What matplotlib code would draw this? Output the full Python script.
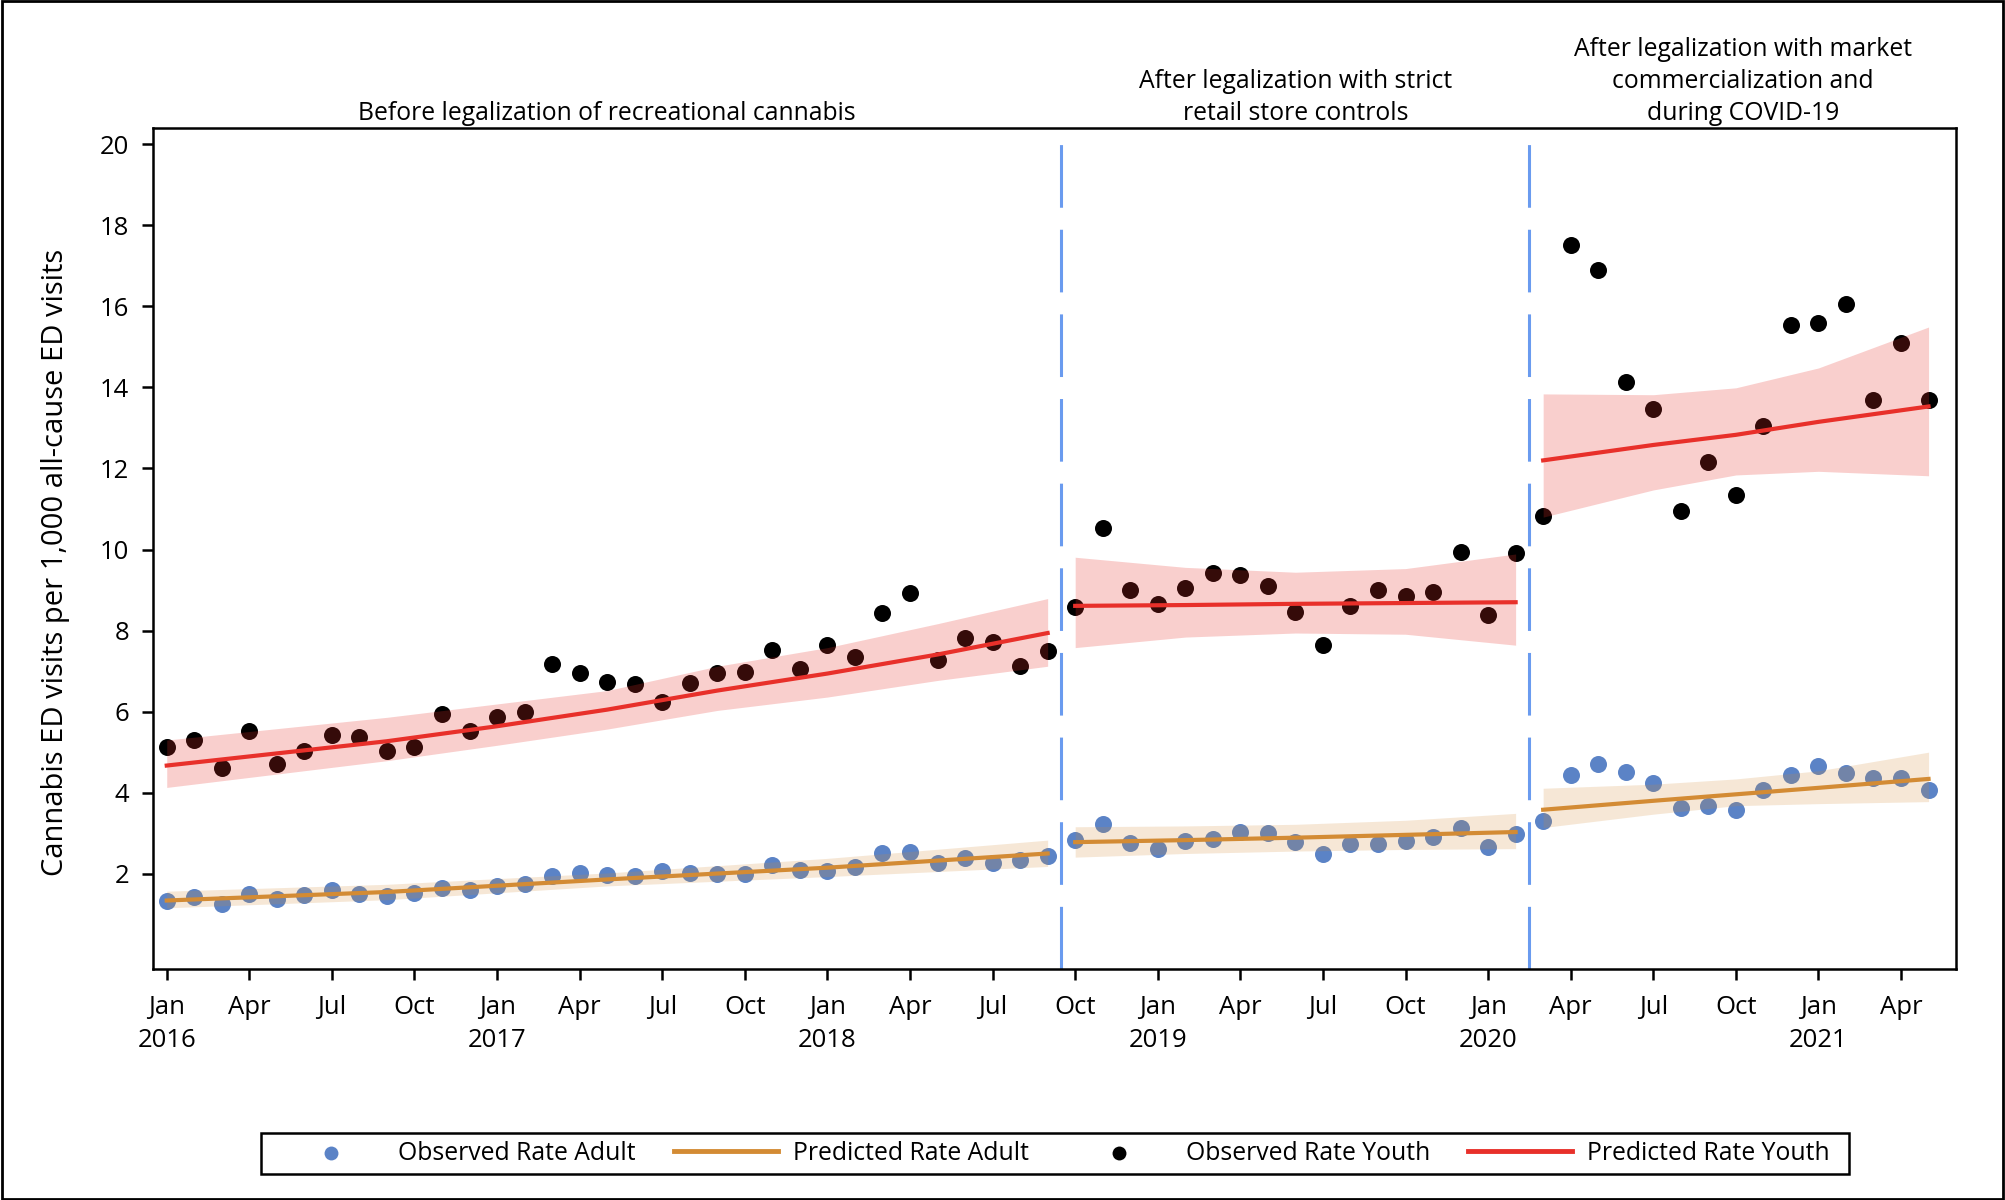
import numpy as np
import matplotlib.pyplot as plt
from matplotlib.patches import Rectangle

plt.rcParams['font.family'] = ['Open Sans', 'DejaVu Sans']

# month index: 0 = Jan 2016 ... 64 = May 2021
youth_obs = [5.14, 5.30, 4.60, 5.52, 4.70, 5.02, 5.43, 5.37, 5.02, 5.14, 5.94, 5.52,
             5.87, 6.00, 7.17, 6.95, 6.72, 6.67, 6.25, 6.70, 6.95, 6.98, 7.53, 7.05,
             7.65, 7.34, 8.44, 8.92, 7.27, 7.81, 7.73, 7.12, 7.49,
             8.57, 10.54, 9.01, 8.66, 9.05, 9.43, 9.36, 9.10, 8.47, 7.65, 8.60, 9.01,
             8.86, 8.95, 9.94, 8.38, 9.91,
             10.83, 17.52, 16.89, 14.13, 13.46, 10.95, 12.17, 11.34, 13.06, 15.55,
             15.59, 16.06, 13.68, 15.10, 13.68]
adult_obs = [1.34, 1.43, 1.26, 1.50, 1.37, 1.47, 1.59, 1.49, 1.46, 1.53, 1.65, 1.60,
             1.70, 1.75, 1.94, 2.01, 1.96, 1.94, 2.07, 2.03, 2.00, 2.00, 2.21, 2.09,
             2.06, 2.17, 2.51, 2.54, 2.26, 2.38, 2.26, 2.34, 2.45,
             2.83, 3.24, 2.77, 2.60, 2.80, 2.86, 3.02, 3.01, 2.78, 2.48, 2.74, 2.74,
             2.80, 2.90, 3.14, 2.67, 2.99,
             3.30, 4.44, 4.70, 4.51, 4.25, 3.63, 3.66, 3.58, 4.06, 4.44, 4.67, 4.48,
             4.37, 4.36, 4.06]

# predicted values and 95% CI read at a few months of each period
youth_pred_x = [[0, 4, 8, 12, 16, 20, 24, 28, 32], [33, 37, 41, 45, 49],
                [50, 54, 57, 60, 64]]
youth_pred = [[4.67, 4.97, 5.27, 5.64, 6.05, 6.52, 6.94, 7.41, 7.94],
              [8.61, 8.63, 8.66, 8.68, 8.70],
              [12.20, 12.58, 12.83, 13.15, 13.53]]
youth_hi = [[5.30, 5.58, 5.86, 6.19, 6.52, 7.12, 7.58, 8.17, 8.79],
            [9.81, 9.56, 9.44, 9.53, 9.89],
            [13.84, 13.82, 13.99, 14.48, 15.49]]
youth_lo = [[4.13, 4.46, 4.79, 5.17, 5.57, 6.03, 6.36, 6.77, 7.12],
            [7.58, 7.84, 7.94, 7.91, 7.64],
            [10.80, 11.47, 11.84, 11.93, 11.82]]

adult_pred_x = [[0, 8, 16, 24, 32], [33, 37, 41, 45, 49], [50, 54, 57, 60, 64]]
adult_pred = [[1.34, 1.55, 1.86, 2.15, 2.50], [2.78, 2.83, 2.89, 2.96, 3.03],
              [3.58, 3.80, 3.96, 4.12, 4.34]]
adult_hi = [[1.57, 1.74, 2.02, 2.38, 2.83], [3.16, 3.18, 3.22, 3.32, 3.49],
            [4.11, 4.21, 4.34, 4.54, 5.00]]
adult_lo = [[1.16, 1.36, 1.70, 1.93, 2.18], [2.41, 2.50, 2.56, 2.60, 2.62],
            [3.14, 3.47, 3.68, 3.73, 3.78]]

breaks = [32.5, 49.5]
period_titles = ["Before legalization of recreational cannabis",
                 "After legalization with strict\nretail store controls",
                 "After legalization with market\ncommercialization and\nduring COVID-19"]
period_centers = [16, 41, 57.25]

month_names = ["Jan", "Apr", "Jul", "Oct"]
years = [2016, 2017, 2018, 2019, 2020, 2021]

c_adult = '#5B83C6'
c_adult_line = '#D38B34'
c_youth = '#000000'
c_youth_line = '#E8302A'

fig = plt.figure(figsize=(20.05, 12), dpi=100)
ax = fig.add_axes([0.0763, 0.1925, 0.8993, 0.7008])

x = np.arange(len(youth_obs))
ax.scatter(x, adult_obs, s=150, color=c_adult, zorder=2, linewidths=0)
ax.scatter(x, youth_obs, s=150, color=c_youth, zorder=2, linewidths=0)

for i in range(3):
    ax.fill_between(adult_pred_x[i], adult_lo[i], adult_hi[i], color=c_adult_line,
                    alpha=0.2, lw=0, zorder=3)
    ax.fill_between(youth_pred_x[i], youth_lo[i], youth_hi[i], color=c_youth_line,
                    alpha=0.23, lw=0, zorder=3)
    ax.plot(adult_pred_x[i], adult_pred[i], color=c_adult_line, lw=3, zorder=4)
    ax.plot(youth_pred_x[i], youth_pred[i], color=c_youth_line, lw=3, zorder=4)

for b in breaks:
    ax.axvline(b, color='#6A9BEF', lw=2.2, dashes=(20.5, 7.2), zorder=1)

ax.set_xlim(-0.5, 65)
ax.set_ylim(-0.35, 20.4)
ax.set_yticks(range(2, 21, 2))

ticks, labels = [], []
for k in range(0, 64, 3):
    ticks.append(k)
    m = month_names[(k % 12) // 3]
    labels.append(f"{m}\n{years[k // 12]}" if k % 12 == 0 else m)
ax.set_xticks(ticks)
ax.set_xticklabels(labels, linespacing=1.4)

ax.tick_params(axis='both', labelsize=18.5, length=8, width=1.8, color='black')
ax.tick_params(axis='x', pad=11)
ax.tick_params(axis='y', pad=9)
for s in ax.spines.values():
    s.set_linewidth(1.8)

ax.set_ylabel("Cannabis ED visits per 1,000 all-cause ED visits", fontsize=21)
ax.yaxis.set_label_coords(-0.046, 0.483)

for cx, t in zip(period_centers, period_titles):
    ax.text(cx, 1.003, t, transform=ax.get_xaxis_transform(), ha='center', va='bottom',
            fontsize=17.8, linespacing=1.36)

h1 = ax.scatter([], [], s=100, color=c_adult, linewidths=0)
h2, = ax.plot([], [], color=c_adult_line, lw=3.5)
h3 = ax.scatter([], [], s=100, color=c_youth, linewidths=0)
h4, = ax.plot([], [], color=c_youth_line, lw=3.5)
leg = fig.legend([h1, h2, h3, h4],
                 ["Observed Rate Adult", "Predicted Rate Adult",
                  "Observed Rate Youth", "Predicted Rate Youth"],
                 loc='center', bbox_to_anchor=(0.526, 0.039), ncol=4, fontsize=17.8,
                 frameon=False, handlelength=4.2, columnspacing=1.55,
                 borderpad=0.2, handletextpad=0.6, borderaxespad=0.3)

# legend frame with wider side padding than the legend's own border
fig.canvas.draw()
bb = leg.get_window_extent().transformed(fig.transFigure.inverted())
padx, pady = 14 / 2005, 3 / 1200
fig.patches.append(Rectangle((bb.x0 - padx, bb.y0 - pady), bb.width + 2 * padx,
                             bb.height + 2 * pady, transform=fig.transFigure,
                             fill=False, edgecolor='black', lw=1.8))

fig.patches.append(Rectangle((0.001, 0.001), 0.998, 0.998, transform=fig.transFigure,
                             fill=False, edgecolor='black', lw=2))

fig.savefig("out.png", dpi=100)
